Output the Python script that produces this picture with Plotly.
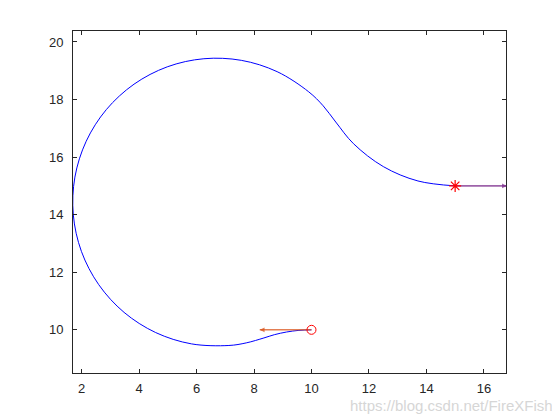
import plotly.graph_objects as go

# Path points (start -> goal)
path_x = [10.000, 9.564, 9.132, 8.706, 8.345, 7.730, 7.126, 5.822, 4.577, 3.477,
          2.595, 1.992, 1.710, 1.766, 2.159, 2.860, 3.823, 4.980, 6.255, 7.559,
          8.804, 9.904, 10.406, 10.845, 11.464, 12.500, 13.706, 15.000]
path_y = [10.000, 9.981, 9.924, 9.830, 9.718, 9.546, 9.456, 9.512, 9.905, 10.606,
          11.569, 12.726, 14.001, 15.305, 16.550, 17.650, 18.532, 19.135, 19.417, 19.361,
          18.968, 18.267, 17.782, 17.218, 16.464, 15.670, 15.170, 15.000]

start_xy = [10.0, 10.0]
goal_xy = [15.0, 15.0]
start_vec = [-1.8, 0.0]
goal_vec = [1.8, 0.0]

x_ticks = [2, 4, 6, 8, 10, 12, 14, 16]
y_ticks = [10, 12, 14, 16, 18, 20]
x_range = [1.70, 16.77]
y_range = [8.50, 20.38]

fig = go.Figure()

fig.add_trace(go.Scatter(x=path_x, y=path_y, mode="lines",
                         line=dict(color="#0000FF", width=1, shape="spline"),
                         showlegend=False, hoverinfo="skip"))

# quiver arrows
for (p, v, col) in [(start_xy, start_vec, "rgba(217,83,25,0.75)"),
                    (goal_xy, goal_vec, "rgba(126,47,142,0.75)")]:
    fig.add_trace(go.Scatter(x=[p[0], p[0] + v[0]], y=[p[1], p[1] + v[1]], mode="lines",
                             line=dict(color=col, width=1.6), showlegend=False,
                             hoverinfo="skip"))
    fig.add_annotation(x=p[0] + v[0], y=p[1] + v[1], ax=p[0] + 0.9 * v[0], ay=p[1] + 0.9 * v[1],
                       xref="x", yref="y", axref="x", ayref="y", text="",
                       showarrow=True, arrowhead=2, arrowsize=0.6, arrowwidth=1.6,
                       arrowcolor=col, standoff=0, startstandoff=0)

fig.add_trace(go.Scatter(x=[start_xy[0]], y=[start_xy[1]], mode="markers",
                         marker=dict(symbol="circle-open", size=9, color="#FF0000",
                                     line=dict(width=1, color="#FF0000")),
                         showlegend=False, hoverinfo="skip"))
fig.add_trace(go.Scatter(x=[goal_xy[0]], y=[goal_xy[1]], mode="markers",
                         marker=dict(symbol="asterisk-open", size=10, color="#FF0000",
                                     line=dict(width=1.2, color="#FF0000")),
                         showlegend=False, hoverinfo="skip"))

axis_common = dict(showline=True, linecolor="#262626", linewidth=1, mirror="ticks",
                   ticks="inside", ticklen=4, tickwidth=1, tickcolor="#262626",
                   showgrid=False, zeroline=False,
                   tickfont=dict(family="Liberation Sans, Arial, sans-serif", size=13,
                                 color="#262626"))

fig.update_xaxes(range=x_range, tickvals=x_ticks, ticklabelstandoff=3, **axis_common)
fig.update_yaxes(range=y_range, tickvals=y_ticks, ticklabelstandoff=6, **axis_common)

fig.add_annotation(text="https://blog.csdn.net/FireXFish", xref="paper", yref="paper",
                   x=1.113, y=-0.094, xanchor="right", yanchor="middle", showarrow=False,
                   font=dict(family="Liberation Sans, Arial, sans-serif", size=15,
                             color="#D6D6D6"))

fig.update_layout(width=552, height=412, margin=dict(l=65, r=54, t=23, b=47),
                  paper_bgcolor="white", plot_bgcolor="white")

fig.write_html("out.html")
